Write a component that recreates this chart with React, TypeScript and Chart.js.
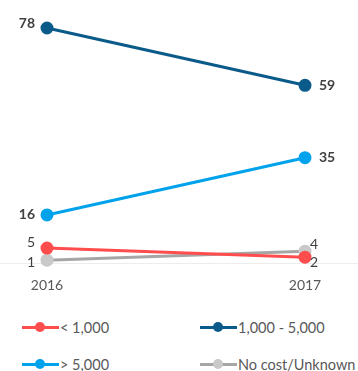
import React, { useEffect, useRef } from "react";
import { Chart, registerables } from "chart.js";

Chart.register(...registerables);

const years = ["2016", "2017"];
const seriesNames = ["< 1,000", "1,000 - 5,000", "> 5,000", "No cost/Unknown"];
const lessThan1000 = [5, 2];
const from1000to5000 = [78, 59];
const moreThan5000 = [16, 35];
const noCostUnknown = [1, 4];
const lineColors = ["#FF4D4D", "#0A5A8A", "#00A2EC", "#A6A6A6"];
const pointColors = ["#FF4D4D", "#0A5A8A", "#00A2EC", "#C9C9C9"];
const boldLabels = [false, true, true, false];

const FONT = "Lato, 'Open Sans', sans-serif";

const labelPlugin = {
  id: "valueLabels",
  beforeDatasetsDraw(chart: any) {
    const ctx = chart.ctx;
    ctx.save();
    const y0 = chart.scales.y.getPixelForValue(0);
    ctx.strokeStyle = "#EDEDED";
    ctx.lineWidth = 1;
    ctx.beginPath();
    ctx.moveTo(0, Math.round(y0) + 0.5);
    ctx.lineTo(chart.width, Math.round(y0) + 0.5);
    ctx.stroke();
    ctx.restore();
  },
  afterDatasetsDraw(chart: any) {
    const ctx = chart.ctx;
    ctx.save();
    chart.data.datasets.forEach((ds: any, di: number) => {
      const meta = chart.getDatasetMeta(di);
      meta.data.forEach((pt: any, i: number) => {
        const v = ds.data[i];
        ctx.font = `${boldLabels[di] ? "bold " : ""}14px ${FONT}`;
        ctx.fillStyle = "#404040";
        ctx.textBaseline = "middle";
        let dy = 0;
        if (di === 0) dy = i === 0 ? -6 : 5;
        if (di === 3) dy = i === 0 ? 2 : -7;
        if (di === 1 && i === 0) dy = -5;
        if (i === 0) {
          ctx.textAlign = "right";
          ctx.fillText(String(v), pt.x - 12, pt.y + dy);
        } else {
          ctx.textAlign = "left";
          ctx.fillText(String(v), pt.x + (di === 0 || di === 3 ? 5 : 14), pt.y + dy);
        }
      });
    });
    ctx.restore();
  },
};

export default function App() {
  const ref = useRef<HTMLCanvasElement>(null);
  useEffect(() => {
    document.body.style.margin = "0";
    const values = [lessThan1000, from1000to5000, moreThan5000, noCostUnknown];
    const chart = new Chart(ref.current!, {
      type: "line",
      data: {
        labels: years,
        datasets: values.map((d, i) => ({
          label: seriesNames[i],
          data: d,
          borderColor: lineColors[i],
          backgroundColor: pointColors[i],
          pointBackgroundColor: pointColors[i],
          pointBorderColor: pointColors[i],
          borderWidth: 3,
          pointRadius: 5,
          clip: false as any,
          order: i === 3 ? 1 : 0,
        })),
      },
      options: {
        animation: false,
        responsive: false,
        layout: { padding: { left: 47, right: 53, top: 28, bottom: 4 } },
        plugins: { legend: { display: false }, tooltip: { enabled: false } },
        scales: {
          x: {
            offset: false,
            grid: { display: false, drawTicks: false },
            border: { display: false },
            ticks: { color: "#595959", font: { family: FONT, size: 14 }, padding: 14 },
          },
          y: { display: false, min: 0, max: 78 },
        },
      },
      plugins: [labelPlugin],
    });
    return () => chart.destroy();
  }, []);

  const legendItem = (i: number) => (
    <div style={{ display: "flex", alignItems: "center", height: 20 }}>
      <span style={{ position: "relative", width: 37, height: 12, display: "inline-block" }}>
        <span style={{ position: "absolute", left: 0, right: 0, top: 4.5, height: 3, background: lineColors[i] }} />
        <span style={{ position: "absolute", left: 13, top: 1, width: 10, height: 10, borderRadius: 5, background: pointColors[i] }} />
      </span>
      <span style={{ marginLeft: 1, fontFamily: FONT, fontSize: 14.5, color: "#595959", whiteSpace: "nowrap" }}>{seriesNames[i]}</span>
    </div>
  );

  return (
    <div style={{ width: 358, height: 371, position: "relative", overflow: "hidden" }}>
      <canvas ref={ref} width={358} height={312} style={{ display: "block" }} />
      <div style={{ position: "absolute", left: 22, top: 317 }}>{legendItem(0)}</div>
      <div style={{ position: "absolute", left: 200, top: 317 }}>{legendItem(1)}</div>
      <div style={{ position: "absolute", left: 22, top: 354 }}>{legendItem(2)}</div>
      <div style={{ position: "absolute", left: 200, top: 354 }}>{legendItem(3)}</div>
    </div>
  );
}
